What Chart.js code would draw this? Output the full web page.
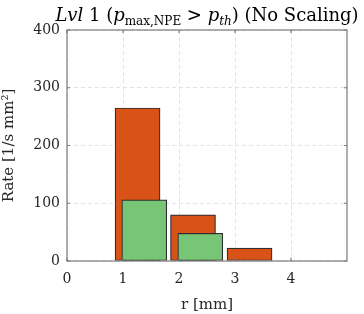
<!DOCTYPE html>
<html>
<head>
<meta charset="utf-8">
<script src="https://cdn.jsdelivr.net/npm/chart.js@4/dist/chart.umd.min.js"></script>
<style>
  html, body { margin: 0; padding: 0; background: #fff; }
  #wrap { width: 364px; height: 314px; }
</style>
</head>
<body>
<div id="wrap"><canvas id="rateChart"></canvas></div>
<script>
// values
var allR = [1.26, 2.25, 3.26];
var allRate = [265, 80, 22.5];
var selR = [1.38, 2.38];
var selRate = [106, 48];
var xTicks = [0, 1, 2, 3, 4];
var yTicks = [0, 100, 200, 300, 400];

var serif = '"DejaVu Serif", "Liberation Serif", serif';

function toPoints(xs, ys) {
    return xs.map(function(x, i) { return { x: x, y: ys[i] }; });
}

// title with italic / subscript pieces
var titlePlugin = {
    id: 'mathTitle',
    afterDraw: function(chart) {
        var c = chart.ctx;
        var size = 18, sub = 12;
        var parts = [
            { t: 'Lvl', f: 'italic ' + size + 'px ' + serif, dy: 0 },
            { t: ' 1 (', f: size + 'px ' + serif, dy: 0 },
            { t: 'p', f: 'italic ' + size + 'px ' + serif, dy: 0 },
            { t: 'max,NPE', f: sub + 'px ' + serif, dy: 4 },
            { t: ' > ', f: size + 'px ' + serif, dy: 0 },
            { t: 'p', f: 'italic ' + size + 'px ' + serif, dy: 0 },
            { t: 'th', f: 'italic ' + sub + 'px ' + serif, dy: 4 },
            { t: ') (No Scaling)', f: size + 'px ' + serif, dy: 0 }
        ];
        c.save();
        var total = 0;
        parts.forEach(function(p) { c.font = p.f; p.w = c.measureText(p.t).width; total += p.w; });
        var x = (chart.chartArea.left + chart.chartArea.right) / 2 - total / 2;
        c.fillStyle = '#000';
        c.textBaseline = 'alphabetic';
        parts.forEach(function(p) {
            c.font = p.f;
            c.fillText(p.t, x, 21 + p.dy);
            x += p.w;
        });
        c.restore();
    }
};

// box around the plot and small inward ticks
var boxPlugin = {
    id: 'box',
    afterDatasetsDraw: function(chart) {
        var c = chart.ctx, a = chart.chartArea;
        var xs = chart.scales.x, ys = chart.scales.y;
        c.save();
        c.strokeStyle = '#7a7a7a';
        c.lineWidth = 1.2;
        c.strokeRect(a.left, a.top, a.right - a.left, a.bottom - a.top);
        c.beginPath();
        xTicks.forEach(function(v) {
            var px = xs.getPixelForValue(v);
            c.moveTo(px, a.bottom); c.lineTo(px, a.bottom - 3);
            c.moveTo(px, a.top); c.lineTo(px, a.top + 3);
        });
        yTicks.forEach(function(v) {
            var py = ys.getPixelForValue(v);
            c.moveTo(a.left, py); c.lineTo(a.left + 3, py);
            c.moveTo(a.right, py); c.lineTo(a.right - 3, py);
        });
        c.stroke();
        c.restore();
    }
};

var ctx = document.getElementById('rateChart').getContext('2d');
var rateChart = new Chart(ctx, {
    type: 'bar',
    data: {
        datasets: [
            {
                label: 'Selected',
                data: toPoints(selR, selRate),
                backgroundColor: '#77c677',
                borderColor: '#2e2e2e',
                borderWidth: 1.2,
                borderSkipped: false,
                barThickness: 45,
                order: 0
            },
            {
                label: 'All',
                data: toPoints(allR, allRate),
                backgroundColor: '#d95319',
                borderColor: '#2e2e2e',
                borderWidth: 1.2,
                borderSkipped: false,
                barThickness: 45,
                order: 1
            }
        ]
    },
    options: {
        responsive: true,
        maintainAspectRatio: false,
        animation: false,
        layout: {
            padding: { top: 30, right: 17, left: 0, bottom: 0 }
        },
        plugins: {
            legend: { display: false },
            tooltip: { enabled: false }
        },
        datasets: {
            bar: { grouped: false }
        },
        scales: {
            x: {
                type: 'linear',
                offset: false,
                min: 0,
                max: 5,
                afterFit: function(scale) { scale.height = 53; },
                afterBuildTicks: function(scale) {
                    scale.ticks = xTicks.map(function(v) { return { value: v }; });
                },
                ticks: {
                    color: '#262626',
                    font: { family: serif, size: 14 },
                    padding: 10,
                    maxRotation: 0
                },
                grid: {
                    color: '#e3e3e3',
                    offset: false,
                    drawTicks: false
                },
                border: { display: false, dash: [4, 3] },
                title: {
                    display: true,
                    text: 'r [mm]',
                    color: '#262626',
                    font: { family: serif, size: 15 },
                    padding: { top: 2, bottom: 0 }
                }
            },
            y: {
                min: 0,
                max: 400,
                afterFit: function(scale) { scale.width = 67; },
                afterBuildTicks: function(scale) {
                    scale.ticks = yTicks.map(function(v) { return { value: v }; });
                },
                ticks: {
                    color: '#262626',
                    font: { family: serif, size: 14 },
                    padding: 7
                },
                grid: {
                    color: '#e3e3e3',
                    drawTicks: false
                },
                border: { display: false, dash: [4, 3] },
                title: {
                    display: true,
                    text: 'Rate [1/s mm²]',
                    color: '#262626',
                    font: { family: serif, size: 15 },
                    padding: { top: 0, bottom: 6 }
                }
            }
        }
    },
    plugins: [titlePlugin, boxPlugin]
});
</script>
</body>
</html>
